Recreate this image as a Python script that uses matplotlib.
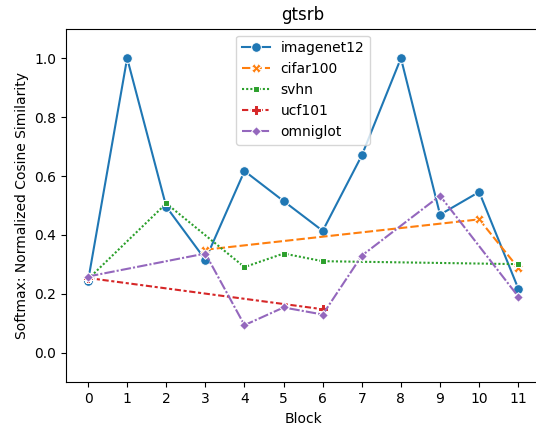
import matplotlib
matplotlib.use("Agg")
import matplotlib.pyplot as plt
import numpy as np
import pandas as pd
import seaborn as sns

blocks = list(range(12))
nan = np.nan
# values, NaN where a dataset has no point
imagenet12 = [0.243, 1.0, 0.496, 0.316, 0.617, 0.515, 0.414, 0.670, 1.0, 0.469, 0.546, 0.218]
cifar100 = [nan, nan, nan, 0.350, nan, nan, nan, nan, nan, nan, 0.453, 0.288]
svhn = [0.250, nan, 0.507, nan, 0.291, 0.337, 0.311, nan, nan, nan, nan, 0.301]
ucf101 = [0.254, nan, nan, nan, nan, nan, 0.148, nan, nan, nan, nan, nan]
omniglot = [0.259, nan, nan, 0.337, 0.094, 0.154, 0.130, 0.330, nan, 0.533, nan, 0.191]

names = ["imagenet12", "cifar100", "svhn", "ucf101", "omniglot"]
series = [imagenet12, cifar100, svhn, ucf101, omniglot]

rows = []
for name, vals in zip(names, series):
    for b, v in zip(blocks, vals):
        if not np.isnan(v):
            rows.append({"Block": b, "value": v, "dataset": name})
df = pd.DataFrame(rows)

fig = plt.figure(figsize=(5.36, 4.26), dpi=100)
ax = fig.add_axes([66 / 536, 1 - 382.3 / 426, (540.3 - 66) / 536, (382.3 - 28.7) / 426])
sns.lineplot(data=df, x="Block", y="value", hue="dataset", style="dataset",
             markers=True, dashes=True, markersize=7, ax=ax, hue_order=names, style_order=names)

ax.set_xticks(blocks)
ax.set_xlim(-0.563, 11.563)
ax.set_ylim(-0.1, 1.1)
ax.set_xlabel("Block")
ax.set_ylabel("Softmax: Normalized Cosine Similarity")
ax.set_title("gtsrb")
ax.legend(loc="upper center")

fig.savefig("out.png", dpi=100)
